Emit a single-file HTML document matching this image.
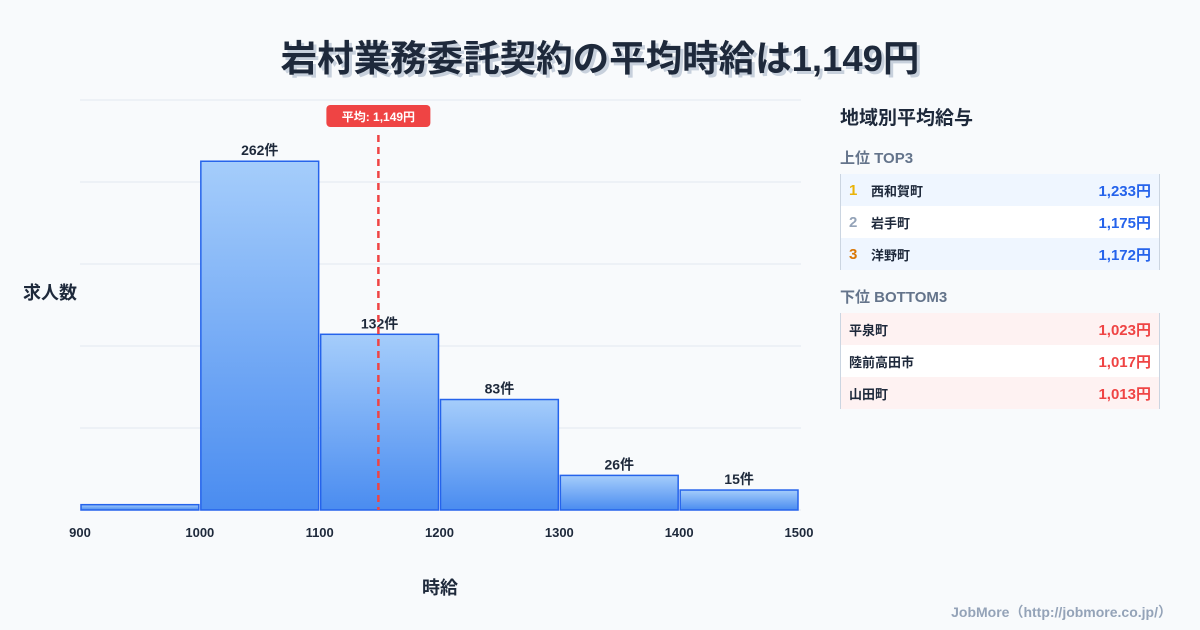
<!DOCTYPE html>
<html><head><meta charset="utf-8"><style>
body{margin:0;width:1200px;height:630px;background:#f8fafc;font-family:"Liberation Sans","Noto Sans CJK JP",sans-serif;position:relative;overflow:hidden;color:#1e293b}
.title{position:absolute;top:29px;left:0;width:1200px;text-align:center;font-size:36.5px;font-weight:bold;color:#1e293b;text-shadow:3px 3px 0 #c7d0dc}
.panel{position:absolute;left:840px;top:100px;width:320px}
.ph{font-size:19px;font-weight:bold;margin-top:3px}
.sh{font-size:15px;font-weight:bold;color:#64748b;height:24px}
.tbl{margin-top:3px;border-left:1px solid #cbd5e1;border-right:1px solid #cbd5e1}
.row{height:32px;display:flex;align-items:center;font-size:13px;font-weight:bold;padding:0 8px}
.row .rk{width:22px;font-size:15px}
.row .nm{flex:1}
.row .v{font-size:15px}
.blue .row:nth-child(odd){background:#eff6ff}.blue .row:nth-child(even){background:#fff}
.red .row:nth-child(odd){background:#fef2f2}.red .row:nth-child(even){background:#fff}
.blue .v{color:#2563eb}.red .v{color:#ef4444}
</style></head><body>
<div class="title">岩村業務委託契約の平均時給は1,149円</div>
<svg id="chart" width="820" height="630" style="position:absolute;left:0;top:0">
<defs><linearGradient id="g" x1="0" y1="0" x2="0" y2="1"><stop offset="0" stop-color="#a5cdfb"/><stop offset="1" stop-color="#4a8cf0"/></linearGradient></defs>
</svg>
<div class="panel">
<div class="ph">地域別平均給与</div>
<div class="sh" style="margin-top:17px">上位 TOP3</div>
<div class="tbl blue">
<div class="row"><span class="rk" style="color:#eab308">1</span><span class="nm">西和賀町</span><span class="v">1,233円</span></div>
<div class="row"><span class="rk" style="color:#94a3b8">2</span><span class="nm">岩手町</span><span class="v">1,175円</span></div>
<div class="row"><span class="rk" style="color:#d97706">3</span><span class="nm">洋野町</span><span class="v">1,172円</span></div>
</div>
<div class="sh" style="margin-top:16px">下位 BOTTOM3</div>
<div class="tbl red">
<div class="row"><span class="nm">平泉町</span><span class="v">1,023円</span></div>
<div class="row"><span class="nm">陸前高田市</span><span class="v">1,017円</span></div>
<div class="row"><span class="nm">山田町</span><span class="v">1,013円</span></div>
</div>
</div>
<div style="position:absolute;right:28px;bottom:8px;font-size:14px;font-weight:bold;color:#94a3b8">JobMore（http://jobmore.co.jp/）</div>
<script>
const binStarts=[900,1000,1100,1200,1300,1400];
const counts=[4,262,132,83,26,15];
const xTicks=[900,1000,1100,1200,1300,1400,1500];
const meanValue=1149;
const meanLabel="平均: 1,149円";
const NS="http://www.w3.org/2000/svg";
const svg=document.getElementById('chart');
const x0=80,x1=799,xmin=900,xmax=1500,yb=510,yt=100,ymax=308;
const X=v=>x0+(v-xmin)/(xmax-xmin)*(x1-x0);
const Y=v=>yb-v/ymax*(yb-yt);
function mk(t,a,p){const e=document.createElementNS(NS,t);for(const k in a)e.setAttribute(k,a[k]);(p||svg).appendChild(e);return e;}
for(let i=0;i<=5;i++){const g=mk('line',{x1:x0,x2:x1+2,y1:yb-i*(yb-yt)/5,y2:yb-i*(yb-yt)/5,stroke:'#e2e8f0','stroke-width':1});

}
const bw=(X(1000)-X(900));
counts.forEach((c,i)=>{
const r=mk('rect',{x:X(binStarts[i])+1,y:Y(c),width:bw-2,height:yb-Y(c),fill:'url(#g)',stroke:'#2563eb','stroke-width':1.5});


if(c>=10){const t=mk('text',{x:X(binStarts[i])+bw/2,y:Y(c)-6,'text-anchor':'middle','font-size':14,'font-weight':'bold',fill:'#1e293b'});t.textContent=c+'件';

}
});
xTicks.forEach(v=>{const t=mk('text',{x:X(v),y:537,'text-anchor':'middle','font-size':13,'font-weight':'bold',fill:'#1e293b'});t.textContent=v;

});
const mx=X(meanValue);
const ml=mk('line',{x1:mx,x2:mx,y1:135,y2:yb,stroke:'#ef4444','stroke-width':2.5,'stroke-dasharray':'7,5'});


const lb=mk('rect',{x:mx-52,y:105,width:104,height:22,rx:4,fill:'#ef4444'});


const lt=mk('text',{x:mx,y:121,'text-anchor':'middle','font-size':12,'font-weight':'bold',fill:'#fff'});lt.textContent=meanLabel;


const yl=mk('text',{x:50,y:299,'text-anchor':'middle','font-size':18,'font-weight':'bold',fill:'#1e293b'});yl.textContent='求人数';


const xl=mk('text',{x:440,y:594,'text-anchor':'middle','font-size':18,'font-weight':'bold',fill:'#1e293b'});xl.textContent='時給';


</script>
</body></html>
